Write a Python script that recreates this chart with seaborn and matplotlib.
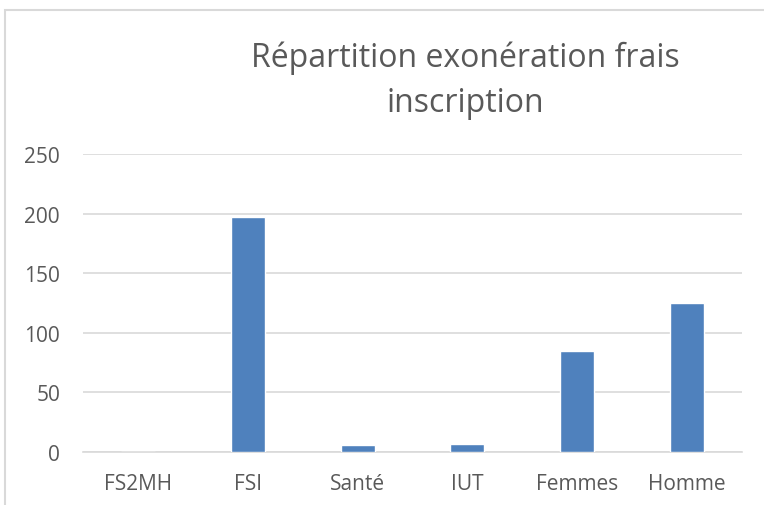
import matplotlib
matplotlib.use("Agg")
import matplotlib.pyplot as plt
import seaborn as sns
import pandas as pd
from matplotlib.patches import Rectangle

# data
categories = ['FS2MH', 'FSI', 'Santé', 'IUT', 'Femmes', 'Homme']
values = [0, 197, 6, 7, 85, 125]
y_ticks = [0, 50, 100, 150, 200, 250]

df = pd.DataFrame({'cat': categories, 'val': values})

sns.set_theme(style='white')
plt.rcParams['font.family'] = ['Open Sans', 'DejaVu Sans']

txt = '#595959'
grid = '#D9D9D9'

fig = plt.figure(figsize=(7.64, 5.06), dpi=100)
ax = fig.add_axes([83 / 764, 53 / 506, 659 / 764, 298 / 506])

sns.barplot(data=df, x='cat', y='val', color='#4F81BD', saturation=1,
            width=0.31, ax=ax, zorder=3)

ax.set_ylim(0, 250)
ax.set_yticks(y_ticks)
ax.set_xlim(-0.5, len(categories) - 0.5)
ax.set_xlabel('')
ax.set_ylabel('')
ax.grid(axis='y', color=grid, linewidth=1.2, zorder=0)
for s in ['top', 'right', 'left']:
    ax.spines[s].set_visible(False)
ax.spines['bottom'].set_color(grid)
ax.spines['bottom'].set_linewidth(1.2)
ax.tick_params(axis='both', length=0, labelsize=15, colors=txt)
ax.tick_params(axis='y', pad=16.5)
ax.tick_params(axis='x', pad=15)

fig.text(465 / 764, 1 - 67 / 506, 'Répartition exonération frais',
         ha='center', va='baseline', fontsize=23, color=txt)
fig.text(465 / 764, 1 - 112 / 506, 'inscription',
         ha='center', va='baseline', fontsize=23, color=txt)

# outer chart frame (only top and left edges are visible in the crop)
fig.patches.append(Rectangle((4.5 / 764, -0.1), 1.2, 1 - 10.5 / 506 + 0.1,
                             transform=fig.transFigure, fill=False,
                             edgecolor=grid, linewidth=1.5))

fig.savefig('out.png', dpi=100)
